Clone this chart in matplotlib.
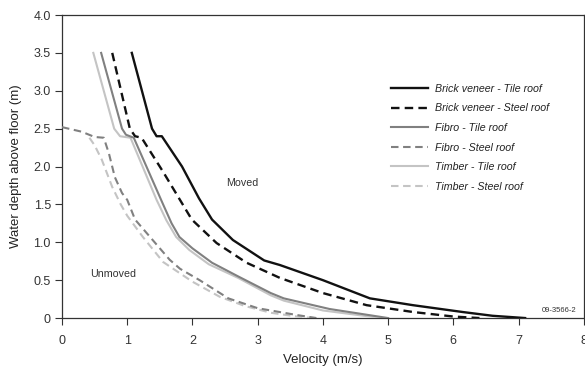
import matplotlib
matplotlib.use("Agg")
import matplotlib.pyplot as plt

plt.rcParams['font.family'] = ['Liberation Sans', 'DejaVu Sans']

# Brick veneer - Tile roof
bt_v = [1.07, 1.38, 1.45, 1.53, 1.84, 2.1, 2.3, 2.62, 3.1, 3.34, 4.0, 4.72, 5.38, 6.14, 6.6, 7.1]
bt_d = [3.5, 2.5, 2.4, 2.4, 2.0, 1.58, 1.3, 1.03, 0.76, 0.7, 0.5, 0.26, 0.17, 0.08, 0.03, 0.0]

# Brick veneer - Steel roof
bs_v = [0.77, 1.04, 1.12, 1.22, 1.55, 1.99, 2.37, 2.83, 3.34, 4.0, 4.67, 5.38, 6.0, 6.4]
bs_d = [3.5, 2.5, 2.4, 2.38, 1.93, 1.3, 0.99, 0.73, 0.53, 0.33, 0.17, 0.08, 0.02, 0.0]

# Fibro - Tile roof
ft_v = [0.6, 0.92, 0.98, 1.1, 1.55, 1.68, 1.8, 2.0, 2.3, 2.7, 3.2, 3.4, 4.1, 5.0]
ft_d = [3.5, 2.5, 2.42, 2.38, 1.5, 1.25, 1.07, 0.92, 0.73, 0.55, 0.33, 0.26, 0.12, 0.0]

# Fibro - Steel roof
fs_v = [0.0, 0.3, 0.5, 0.64, 0.72, 0.81, 0.92, 1.0, 1.12, 1.35, 1.65, 1.81, 2.11, 2.55, 3.0, 3.6, 3.9]
fs_d = [2.52, 2.46, 2.39, 2.38, 2.17, 1.86, 1.65, 1.56, 1.3, 1.07, 0.77, 0.65, 0.5, 0.26, 0.13, 0.04, 0.0]

# Timber - Tile roof
tt_v = [0.48, 0.8, 0.89, 1.05, 1.45, 1.6, 1.75, 1.95, 2.25, 2.7, 3.2, 3.4, 4.0, 4.9]
tt_d = [3.5, 2.5, 2.4, 2.38, 1.56, 1.29, 1.07, 0.9, 0.71, 0.53, 0.3, 0.23, 0.1, 0.0]

# Timber - Steel roof
ts_v = [0.42, 0.5, 0.61, 0.77, 0.9, 1.0, 1.24, 1.55, 2.0, 2.42, 2.8, 3.2, 3.6, 3.85]
ts_d = [2.38, 2.28, 2.09, 1.73, 1.5, 1.35, 1.07, 0.74, 0.48, 0.28, 0.16, 0.07, 0.02, 0.0]

x_ticks = [0, 1, 2, 3, 4, 5, 6, 7, 8]
y_ticks = [0, 0.5, 1.0, 1.5, 2.0, 2.5, 3.0, 3.5, 4.0]
y_tick_labels = ['0', '0.5', '1.0', '1.5', '2.0', '2.5', '3.0', '3.5', '4.0']

black = '#111111'
grey = '#808080'
light = '#c4c4c4'
dash = (3.6, 2.2)

fig = plt.figure(figsize=(5.85, 3.66), dpi=100)
ax = fig.add_axes([0.106, 0.131, 0.892, 0.828])

ax.plot(bt_v, bt_d, color=black, lw=1.7, label='Brick veneer - Tile roof', zorder=6)
ax.plot(bs_v, bs_d, color=black, lw=1.7, ls=(0, dash), label='Brick veneer - Steel roof', zorder=5)
ax.plot(ft_v, ft_d, color=grey, lw=1.5, label='Fibro - Tile roof', zorder=4)
ax.plot(fs_v, fs_d, color=grey, lw=1.5, ls=(0, dash), label='Fibro - Steel roof', zorder=4)
ax.plot(tt_v, tt_d, color=light, lw=1.5, label='Timber - Tile roof', zorder=3)
ax.plot(ts_v, ts_d, color=light, lw=1.5, ls=(0, dash), label='Timber - Steel roof', zorder=3)

ax.set_xlim(0, 8)
ax.set_ylim(0, 4)
ax.set_xticks(x_ticks)
ax.set_yticks(y_ticks)
ax.set_yticklabels(y_tick_labels)
ax.tick_params(direction='out', length=5, width=0.8, labelsize=9, colors='#333333', pad=3)
ax.tick_params(axis='x', pad=7)
for s in ax.spines.values():
    s.set_color('#333333')
    s.set_linewidth(0.9)

ax.set_xlabel('Velocity (m/s)', fontsize=9.5, color='#222222', labelpad=5)
ax.set_ylabel('Water depth above floor (m)', fontsize=9.5, color='#222222', labelpad=8)

ax.text(2.76, 1.78, 'Moved', fontsize=7.7, color='#333333', ha='center', va='center')
ax.text(0.78, 0.58, 'Unmoved', fontsize=7.7, color='#333333', ha='center', va='center')
ax.text(7.88, 0.1, '09-3566-2', fontsize=5.5, color='#333333', ha='right', va='center')

leg = ax.legend(loc='upper left', bbox_to_anchor=(0.612, 0.805), frameon=False,
                prop={'style': 'italic', 'size': 7.7}, handlelength=3.5,
                labelspacing=0.9, handletextpad=0.6)
for t in leg.get_texts():
    t.set_color('#222222')

fig.savefig('out.png', dpi=100)
